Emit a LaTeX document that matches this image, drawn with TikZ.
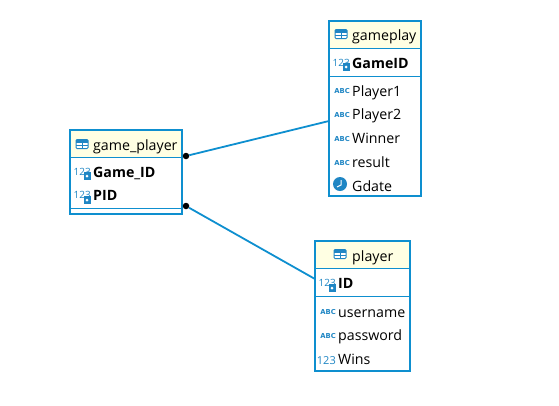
\documentclass[tikz,border=0pt]{standalone}
\usepackage{fontspec}
\setmainfont{Open Sans}
\newfontfamily\icofont{DejaVu Sans Bold}
\usepackage{xcolor}
\usetikzlibrary{arrows.meta,positioning}
\definecolor{erblue}{HTML}{0E8FCF}
\definecolor{erhead}{HTML}{FFFFE3}
\definecolor{icoblue}{HTML}{1F86C4}
% one icon per column type, icon and name are placed side by side
\newcommand{\tabicon}[2]{%
  \draw[icoblue, rounded corners=1pt, fill=white, line width=1pt] (#1-6,#2-4.5) rectangle (#1+6,#2+4.5);
  \fill[icoblue] (#1-6,#2-4.5) rectangle (#1+6,#2-1.5);
  \draw[icoblue, line width=0.7pt] (#1-6,#2+1) -- (#1+6,#2+1) (#1,#2-2) -- (#1,#2+4.5);}
\newcommand{\clockicon}[2]{%
  \fill[icoblue] (#1,#2) circle (7);
  \draw[white, line width=1pt] (#1+1,#2-4) -- (#1+1,#2+1) -- (#1-3,#2+3);}
\begin{document}
\begin{tikzpicture}[x=1pt, y=-1pt, every node/.style={font=\fontsize{14.2}{16}\selectfont},
  tbl/.style={draw=erblue, line width=2.4pt, fill=white, anchor=north west, inner sep=0pt, outer sep=0pt},
  head/.style={fill=erhead, anchor=north west, inner sep=0pt, outer sep=0pt},
  sep/.style={erblue, line width=1pt},
  attr/.style={anchor=west, inner sep=0pt, text height=10.5pt, text depth=3pt},
  next/.style={attr, below=9.8pt of #1.south west, anchor=north west},
  key/.style={attr, font=\fontsize{14.2}{16}\selectfont\bfseries},
  abcico/.style={inner sep=0pt, text=icoblue, yshift=1pt, font=\fontsize{6.8}{7}\icofont},
  numico/.style={inner sep=0pt, text=icoblue, font=\fontsize{11}{12}\selectfont},
  keyico/.style={inner sep=0pt, text=icoblue, yshift=2pt, font=\fontsize{10}{11}\selectfont},
  badge/.style={fill=icoblue, inner sep=0pt, minimum width=7pt, minimum height=8pt, path picture={\fill[white] (path picture bounding box.center) circle (1.5pt);}},
  dotend/.style={circle, fill=black, inner sep=0pt, minimum size=6.5pt},
  conn/.style={erblue, line width=1.8pt}]
\useasboundingbox (0,0) rectangle (559,405);
% gameplay
\node[tbl, minimum width=92pt, minimum height=175pt] (gameplay) at (329,21) {};
\node[head, minimum width=90pt, minimum height=26pt] (gameplayhead) at (330,22) {};
\node[anchor=west, inner sep=0pt] (gameplaytitle) at (352,36.5) {gameplay};
\tabicon{341}{34}
\draw[sep] (329,48) -- (421,48);
\draw[sep] (329,76) -- (421,76);
\node[key] (gameid) at (352,65) {GameID};
\node[keyico, left=2pt of gameid] (gameidico) {123};
\node[badge] (gameidkey) at (346,67) {};
\node[attr] (player1) at (352,92.5) {Player1};
\node[next=player1] (player2) {Player2};
\node[next=player2] (winner) {Winner};
\node[next=winner] (result) {result};
\node[next=result] (gdate) {Gdate};
\node[abcico, left=2pt of player1] (player1ico) {ABC};
\node[abcico, left=2pt of player2] (player2ico) {ABC};
\node[abcico, left=2pt of winner] (winnerico) {ABC};
\node[abcico, left=2pt of result] (resultico) {ABC};
\clockicon{340}{184}
% game_player
\node[tbl, minimum width=112pt, minimum height=84pt] (gameplayer) at (70,130) {};
\node[head, minimum width=110pt, minimum height=26pt] (gameplayerhead) at (71,131) {};
\node[anchor=west, inner sep=0pt] (gameplayertitle) at (93,146.5) {game\_player};
\tabicon{82}{144}
\draw[sep] (70,157) -- (182,157);
\draw[sep] (70,208) -- (182,208);
\node[key] (gameidb) at (93,173.5) {Game\_ID};
\node[key] (pid) at (93,197) {PID};
\node[keyico, left=2pt of gameidb] (gameidbico) {123};
\node[keyico, left=2pt of pid] (pidico) {123};
\node[badge] (gameidbkey) at (87,176) {};
\node[badge] (pidkey) at (87,200) {};
% player
\node[tbl, minimum width=95pt, minimum height=130pt] (player) at (315,241) {};
\node[head, minimum width=93pt, minimum height=26pt] (playerhead) at (316,242) {};
\node[anchor=west, inner sep=0pt] (playertitle) at (352,257.5) {player};
\tabicon{340}{254}
\draw[sep] (315,268) -- (410,268);
\draw[sep] (315,296) -- (410,296);
\node[key] (id) at (338,285) {ID};
\node[keyico, left=2pt of id] (idico) {123};
\node[badge] (idkey) at (332,288) {};
\node[attr] (username) at (338,313.5) {username};
\node[next=username] (password) {password};
\node[next=password] (wins) {Wins};
\node[abcico, left=2pt of username] (usernameico) {ABC};
\node[abcico, left=2pt of password] (passwordico) {ABC};
\node[numico, left=2pt of wins] (winsico) {123};
% links
\node[dotend] (linka) at (186,156) {};
\node[dotend] (linkb) at (186,206) {};
\coordinate (gameplayend) at (329,121);
\coordinate (playerend) at (315,279);
\draw[conn] (linka) -- (gameplayend);
\draw[conn] (linkb) -- (playerend);
\end{tikzpicture}
\end{document}
